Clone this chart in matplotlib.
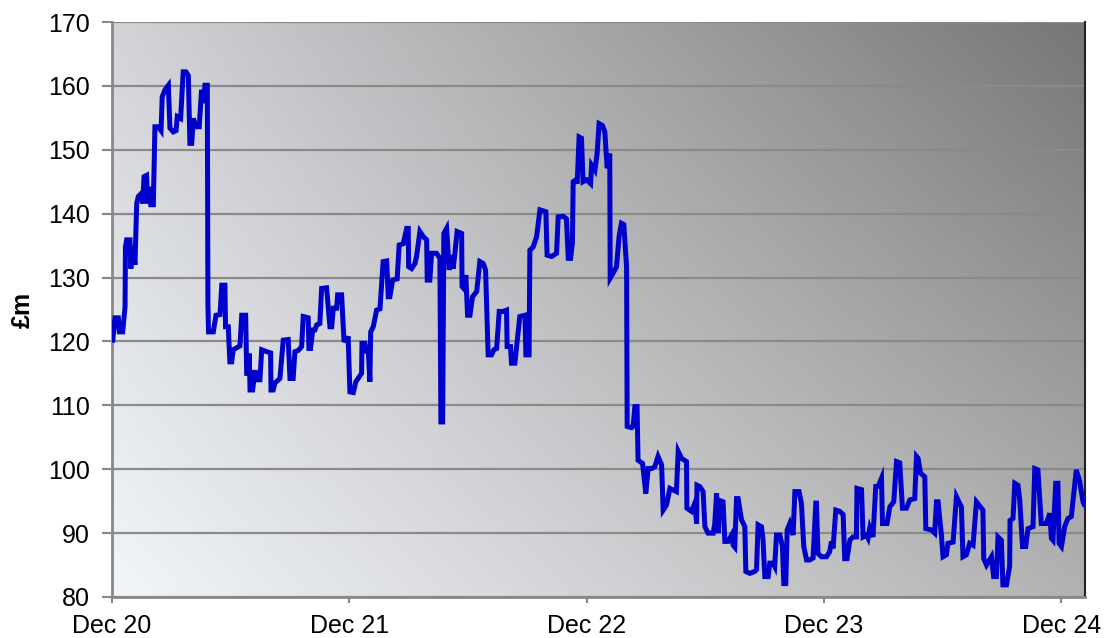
import numpy as np
import matplotlib
matplotlib.use("Agg")
import matplotlib.pyplot as plt

plt.rcParams['font.family'] = ['Liberation Sans', 'DejaVu Sans']

# months since Dec 2020
months = [0.04,0.15,0.32,0.37,0.54,0.66,0.68,0.74,0.91,0.95,1.08,1.16,1.25,1.33,1.50,1.55,1.62,1.75,1.80,1.89,1.96,2.09,2.17,2.34,2.48,2.54,2.68,2.85,2.93,3.10,3.24,3.30,3.47,3.52,3.60,3.74,3.86,3.94,4.03,4.11,4.25,4.41,4.53,4.62,4.70,4.82,4.85,4.88,5.12,5.26,5.46,5.55,5.71,5.74,5.88,5.96,6.05,6.13,6.47,6.56,6.76,6.81,6.89,6.94,6.98,7.11,7.23,7.31,7.48,7.57,7.82,8.02,8.04,8.15,8.24,8.49,8.66,8.91,9.00,9.16,9.25,9.42,9.59,9.67,9.92,9.96,10.04,10.15,10.26,10.35,10.51,10.60,10.85,11.02,11.11,11.19,11.36,11.41,11.61,11.73,11.86,11.94,12.03,12.20,12.33,12.62,12.64,12.79,12.87,12.96,13.04,13.08,13.21,13.38,13.55,13.71,13.89,13.97,14.05,14.19,14.42,14.52,14.73,14.90,14.98,15.00,15.15,15.32,15.40,15.57,15.74,15.91,15.94,16.07,16.16,16.41,16.58,16.63,16.72,16.78,16.92,17.05,17.17,17.25,17.34,17.45,17.68,17.70,17.84,17.89,17.98,18.10,18.23,18.44,18.60,18.77,18.89,19.02,19.19,19.31,19.45,19.58,19.78,19.95,19.98,20.15,20.20,20.37,20.46,20.62,20.88,20.93,21.09,21.13,21.30,21.47,21.64,21.94,22.00,22.23,22.48,22.56,22.81,22.98,23.07,23.19,23.28,23.32,23.46,23.52,23.62,23.74,23.82,24.00,24.20,24.25,24.42,24.53,24.63,24.80,24.92,25.04,25.17,25.19,25.34,25.51,25.64,25.76,25.88,26.02,26.05,26.27,26.35,26.44,26.55,26.60,26.83,26.99,27.11,27.28,27.45,27.61,27.79,27.87,28.04,28.21,28.54,28.63,28.80,29.05,29.07,29.30,29.47,29.56,29.58,29.72,29.89,29.98,30.14,30.40,30.48,30.57,30.65,30.73,30.90,30.99,31.15,31.33,31.41,31.49,31.58,31.66,31.83,32.00,32.05,32.25,32.50,32.59,32.67,32.84,32.92,33.01,33.18,33.26,33.43,33.51,33.60,33.77,33.90,33.97,34.07,34.14,34.27,34.44,34.53,34.74,34.86,34.98,35.12,35.28,35.45,35.59,35.62,35.70,35.87,36.13,36.29,36.38,36.46,36.60,36.80,36.97,37.05,37.17,37.31,37.47,37.64,37.67,37.90,37.98,38.15,38.23,38.32,38.48,38.62,38.74,38.91,38.96,39.19,39.33,39.53,39.67,39.83,39.97,40.17,40.34,40.59,40.68,40.76,40.88,41.10,41.15,41.43,41.60,41.69,41.77,41.94,42.02,42.19,42.27,42.53,42.70,42.95,43.03,43.20,43.37,43.54,43.71,44.04,44.08,44.22,44.47,44.58,44.72,44.80,44.97,45.05,45.23,45.39,45.41,45.56,45.65,45.81,45.90,46.04,46.20,46.32,46.57,46.66,46.82,46.99,47.25,47.42,47.50,47.58,47.72,47.83,47.89,48.01,48.17,48.34,48.51,48.76,48.93,49.10,49.16]

values = [120.2,123.7,123.7,121.5,121.5,125.4,134.8,135.9,135.9,131.4,134.8,132.0,141.6,142.7,143.2,141.6,145.8,146.0,141.6,144.2,141.4,141.4,153.6,153.6,153.0,158.3,159.4,160.1,153.4,152.8,153.0,155.2,154.9,157.8,162.2,162.2,161.6,151.0,151.0,154.9,153.6,153.6,159.4,157.3,160.1,160.1,126.0,121.5,121.5,124.1,124.2,128.8,128.8,122.3,122.3,116.8,116.8,118.7,119.3,124.1,124.1,115.0,115.0,118.1,112.4,112.4,115.5,114.0,114.0,118.7,118.4,118.2,112.4,112.4,113.5,114.2,120.2,120.3,114.2,114.2,118.4,118.6,119.2,123.9,123.7,118.9,118.9,121.8,121.8,122.6,122.8,128.3,128.4,122.3,122.3,125.2,125.2,127.3,127.3,120.2,120.1,120.8,112.1,112.0,113.7,115.0,119.7,119.7,118.5,118.5,113.7,121.5,122.3,124.9,125.1,132.5,132.6,127.0,127.0,129.6,129.8,135.1,135.3,137.7,137.7,131.7,131.4,132.2,133.3,137.2,136.4,135.9,129.6,129.6,133.8,133.8,133.0,107.4,107.4,136.9,137.7,131.2,133.5,131.4,133.8,137.2,136.9,128.6,128.1,130.4,124.1,124.1,127.0,127.8,132.5,132.2,131.2,117.9,117.9,118.7,118.9,124.7,124.7,124.9,119.2,119.2,116.6,116.6,119.2,123.9,124.1,117.9,117.9,134.3,134.8,136.4,140.6,140.3,133.5,133.3,133.8,139.5,139.6,139.2,133.0,133.0,135.4,145.0,145.3,144.7,152.0,151.8,145.0,145.3,144.7,147.6,146.8,149.4,154.1,153.8,152.8,147.1,149.4,129.9,130.7,131.7,136.4,138.5,138.3,131.7,106.7,106.5,106.7,109.8,109.8,101.4,100.9,96.2,100.1,100.1,100.4,102.0,100.7,93.6,94.4,97.0,96.5,102.8,101.7,101.2,93.9,93.4,94.7,91.5,97.5,97.3,96.5,91.0,90.0,90.0,91.5,96.2,90.0,95.1,94.9,88.7,88.7,89.7,88.1,87.8,95.4,95.4,92.1,91.0,84.0,83.7,84.0,84.3,91.3,91.0,89.0,83.2,83.2,85.3,85.3,84.8,89.7,89.7,87.9,82.1,82.1,90.5,91.5,89.7,96.5,96.5,94.7,87.9,85.8,85.8,86.1,94.7,94.7,86.8,86.3,86.3,87.1,88.7,87.6,93.6,93.4,92.9,86.0,86.0,88.9,89.4,89.4,97.0,96.8,89.4,89.7,89.2,90.8,89.4,97.3,97.3,98.6,91.5,91.5,94.1,94.9,101.2,101.0,93.9,93.9,95.2,95.4,102.0,101.7,99.4,98.8,90.7,90.5,90.0,94.9,94.9,89.7,86.3,86.6,88.4,88.6,95.7,94.1,86.3,86.6,88.4,88.1,94.9,93.6,86.0,85.0,86.3,83.2,83.2,89.4,88.9,81.9,81.9,84.8,92.0,92.3,97.8,97.5,95.2,87.9,87.9,90.7,91.0,100.1,99.9,91.5,91.5,93.1,89.2,88.9,97.8,97.8,88.4,87.9,91.0,92.3,92.6,99.9,98.1,94.9,94.5]

tick_months = [0, 12, 24, 36, 48]
tick_labels = ["Dec 20", "Dec 21", "Dec 22", "Dec 23", "Dec 24"]
y_ticks = list(range(80, 171, 10))
y_label = "£m"

W, H = 1108, 638
fig = plt.figure(figsize=(W / 100, H / 100), dpi=100)
ax = fig.add_axes([112 / W, (H - 597) / H, 973 / W, 575 / H])

xmin, xmax = 0, 49.2
ymin, ymax = 80, 170

# gradient background (light bottom-left -> dark top-right)
ny, nx = 200, 400
u = np.linspace(0, 1, nx)[None, :]
v = np.linspace(0, 1, ny)[:, None]  # 0 bottom, 1 top
BL = np.array([242, 245, 249]) / 255
TL = np.array([210, 212, 215]) / 255
BR = np.array([178, 178, 179]) / 255
TR = np.array([118, 118, 118]) / 255
img = ((1 - u) * (1 - v))[..., None] * BL + ((1 - u) * v)[..., None] * TL \
    + (u * (1 - v))[..., None] * BR + (u * v)[..., None] * TR
ax.imshow(img, extent=[xmin, xmax, ymin, ymax], origin='lower', aspect='auto', zorder=0)

for yv in y_ticks:
    ax.axhline(yv, color='#8a8a8a', lw=1.6, zorder=1)

ax.plot(months, values, color='#0000CC', lw=3.6, solid_joinstyle='miter', zorder=3)

ax.set_xlim(xmin, xmax)
ax.set_ylim(ymin, ymax)
ax.set_xticks(tick_months)
ax.set_xticklabels(tick_labels)
ax.set_yticks(y_ticks)
ax.tick_params(axis='both', labelsize=18, colors='#888888', labelcolor='black',
               width=1.5, direction='out')
ax.tick_params(axis='x', length=4.5, pad=7.5)
ax.tick_params(axis='y', length=7, pad=9)

ax.spines['top'].set_visible(False)
ax.spines['left'].set_color('#888888')
ax.spines['left'].set_linewidth(2)
ax.spines['bottom'].set_color('#888888')
ax.spines['bottom'].set_linewidth(2)
ax.spines['right'].set_color('#222222')
ax.spines['right'].set_linewidth(1.5)

ax.set_ylabel(y_label, fontsize=18, fontweight='bold')
ax.yaxis.set_label_coords(-0.079, 0.5)

fig.savefig('out.png', dpi=100)
